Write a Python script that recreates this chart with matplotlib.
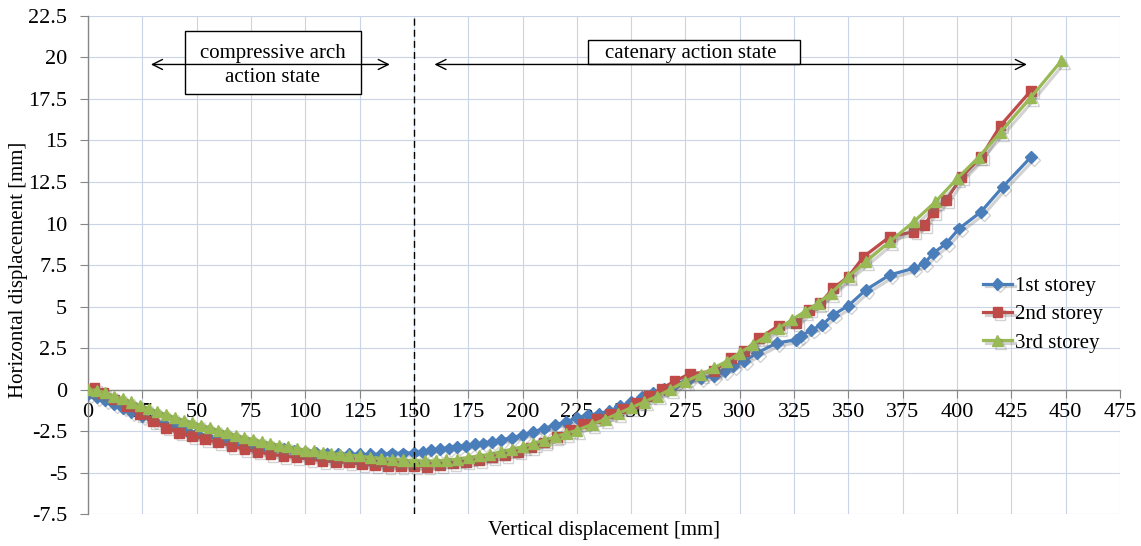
import matplotlib
matplotlib.use("Agg")
import matplotlib.pyplot as plt
import matplotlib.patheffects as pe
from matplotlib.patches import Rectangle
from matplotlib.ticker import MultipleLocator, FuncFormatter

plt.rcParams["font.family"] = ["Liberation Serif", "DejaVu Serif"]

# Vertical displacement [mm] / horizontal displacement [mm] per storey
storey1_x = [0, 4, 8, 12, 16, 20, 25, 30, 35, 40, 45, 50, 55, 60, 65, 70, 75, 80, 85, 90,
             95, 100, 105, 110, 115, 120, 125, 130, 135, 140, 145, 150, 154, 158, 162, 166,
             170, 174, 178, 182, 186, 190, 195, 200, 205, 210, 215, 220, 225, 230, 235, 240,
             245, 250, 255, 260, 265, 270, 276, 282, 288, 293, 297, 302, 308, 317, 326, 328,
             333, 338, 343, 350, 358, 369, 380, 385, 389, 395, 401, 411, 421, 434]
storey1_y = [-0.3, -0.45, -0.65, -0.9, -1.1, -1.35, -1.6, -1.85, -2.05, -2.25, -2.45, -2.6,
             -2.8, -2.95, -3.1, -3.2, -3.35, -3.45, -3.55, -3.6, -3.7, -3.75, -3.8, -3.85,
             -3.9, -3.9, -3.9, -3.9, -3.9, -3.85, -3.85, -3.8, -3.75, -3.65, -3.6, -3.55,
             -3.45, -3.4, -3.3, -3.25, -3.15, -3.05, -2.9, -2.75, -2.55, -2.35, -2.15, -1.95,
             -1.7, -1.55, -1.45, -1.3, -1.0, -0.75, -0.45, -0.2, 0.05, 0.3, 0.55, 0.7, 0.8,
             1.1, 1.4, 1.7, 2.2, 2.8, 3.0, 3.2, 3.6, 3.9, 4.5, 5.05, 6.0, 6.9, 7.3, 7.6, 8.2,
             8.8, 9.7, 10.7, 12.2, 14.0]

storey2_x = [0, 3, 7, 12, 18, 24, 30, 36, 42, 48, 54, 60, 66, 72, 78, 84, 90, 96, 102, 108,
             114, 120, 126, 132, 138, 144, 150, 156, 162, 168, 174, 180, 186, 192, 198, 204,
             210, 216, 222, 228, 234, 240, 246, 252, 258, 264, 270, 277, 288, 296, 302, 309,
             318, 326, 332, 337, 343, 350, 357, 369, 380, 385, 389, 395, 402, 411, 420, 434]
storey2_y = [0.0, 0.1, -0.2, -0.6, -1.0, -1.5, -1.9, -2.3, -2.6, -2.8, -3.0, -3.2, -3.4,
             -3.6, -3.75, -3.9, -4.0, -4.1, -4.2, -4.3, -4.35, -4.4, -4.5, -4.55, -4.6, -4.6,
             -4.6, -4.65, -4.55, -4.45, -4.35, -4.25, -4.1, -3.95, -3.75, -3.5, -3.2, -2.85,
             -2.45, -2.05, -1.75, -1.45, -1.15, -0.8, -0.4, 0.05, 0.5, 0.95, 1.1, 1.9, 2.3,
             3.1, 3.85, 4.0, 4.8, 5.2, 6.1, 6.8, 8.0, 9.2, 9.5, 9.9, 10.7, 11.4, 12.8, 14.0,
             15.9, 18.0]

storey3_x = [0, 4, 8, 12, 16, 20, 24, 28, 32, 36, 40, 44, 48, 52, 56, 60, 64, 68, 72, 76,
             80, 84, 88, 92, 96, 100, 104, 108, 112, 116, 120, 125, 130, 135, 140, 145, 150,
             155, 160, 165, 170, 175, 180, 185, 190, 195, 200, 205, 210, 215, 220, 225, 232,
             238, 244, 250, 256, 262, 268, 275, 282, 288, 294, 300, 306, 312, 318, 324, 330,
             336, 342, 350, 358, 369, 380, 390, 400, 410, 420, 434, 448]
storey3_y = [0.0, -0.05, -0.2, -0.4, -0.55, -0.75, -0.95, -1.15, -1.35, -1.5, -1.7, -1.85,
             -2.0, -2.15, -2.3, -2.45, -2.6, -2.75, -2.9, -3.0, -3.15, -3.25, -3.35, -3.45,
             -3.55, -3.65, -3.7, -3.8, -3.85, -3.9, -3.95, -4.0, -4.1, -4.15, -4.2, -4.25,
             -4.3, -4.3, -4.3, -4.25, -4.2, -4.1, -4.0, -3.9, -3.75, -3.6, -3.45, -3.25,
             -3.05, -2.85, -2.65, -2.45, -2.1, -1.8, -1.45, -1.1, -0.75, -0.4, 0.0, 0.5, 0.9,
             1.3, 1.7, 2.2, 2.7, 3.2, 3.7, 4.2, 4.7, 5.2, 5.8, 6.8, 7.7, 8.9, 10.1, 11.3,
             12.7, 14.0, 15.5, 17.6, 19.8]

series_labels = ["1st storey", "2nd storey", "3rd storey"]
state_labels = ["compressive arch\naction state", "catenary action state"]
boundary_x = 150

fig = plt.figure(figsize=(11.41, 5.46), dpi=100)
ax = fig.add_axes([0.0771, 0.0586, 0.9045, 0.9121])

ax.set_xlim(0, 475)
ax.set_ylim(-7.5, 22.5)
ax.xaxis.set_major_locator(MultipleLocator(25))
ax.yaxis.set_major_locator(MultipleLocator(2.5))
ax.yaxis.set_major_formatter(FuncFormatter(lambda v, p: f"{v:g}"))
ax.grid(True, color="#c9d5e6", linewidth=0.8)
ax.set_axisbelow(True)

for s in ("top", "right"):
    ax.spines[s].set_visible(False)
ax.spines["bottom"].set_position(("data", 0))
ax.spines["left"].set_position(("data", 0))
for s in ("bottom", "left"):
    ax.spines[s].set_color("#868686")
    ax.spines[s].set_linewidth(1.0)
ax.tick_params(direction="out", length=6, color="#868686", labelsize=16)
ax.tick_params(axis="x", pad=4)
ax.tick_params(axis="y", pad=9)

shadow = [pe.SimpleLineShadow(offset=(2.0, -2.0), shadow_color="#6f6f6f", alpha=0.3), pe.Normal()]

ax.plot(storey1_x, storey1_y, color="#4a7ebb", marker="D", markersize=6.0, linewidth=2.3,
        label=series_labels[0], path_effects=shadow, zorder=3)
ax.plot(storey2_x, storey2_y, color="#be4b48", marker="s", markersize=7.0, linewidth=2.3,
        label=series_labels[1], path_effects=shadow, zorder=4)
ax.plot(storey3_x, storey3_y, color="#98b954", marker="^", markersize=8.0, linewidth=2.3,
        label=series_labels[2], path_effects=shadow, zorder=5)

# boundary between the two action states
ax.axvline(boundary_x, color="black", linestyle=(0, (5, 3)), linewidth=1.0, zorder=6)

# state annotations: framed labels with double arrows
arrow_y = 19.58
ax.add_patch(Rectangle((44.7, 17.83), 80.8, 3.74, facecolor="white", edgecolor="black",
                       linewidth=1.0, zorder=6))
ax.add_patch(Rectangle((230.2, 19.58), 97.3, 1.5, facecolor="white", edgecolor="black",
                       linewidth=1.0, zorder=6))
ax.annotate("", xy=(27.7, arrow_y), xytext=(140.2, arrow_y),
            arrowprops=dict(arrowstyle="<->", color="black", lw=1.0, mutation_scale=18), zorder=7)
ax.annotate("", xy=(158.2, arrow_y), xytext=(433.4, arrow_y),
            arrowprops=dict(arrowstyle="<->", color="black", lw=1.0, mutation_scale=18), zorder=7)
ax.text(85.1, 19.52, state_labels[0], ha="center", va="center", fontsize=15,
        linespacing=1.35, zorder=8)
ax.text(277.5, 20.22, state_labels[1], ha="center", va="center", fontsize=15, zorder=8)

ax.set_xlabel("Vertical displacement [mm]", fontsize=15)
ax.xaxis.set_label_coords(0.5, -0.014)
ax.set_ylabel("Horizontal displacement [mm]", fontsize=15)
ax.yaxis.set_label_coords(-0.058, 0.49)

ax.legend(loc="upper left", bbox_to_anchor=(0.857, 0.498), frameon=False, fontsize=15,
          handlelength=1.4, handletextpad=0.15, labelspacing=0.42, borderpad=0)

fig.savefig("out.png", dpi=100)
